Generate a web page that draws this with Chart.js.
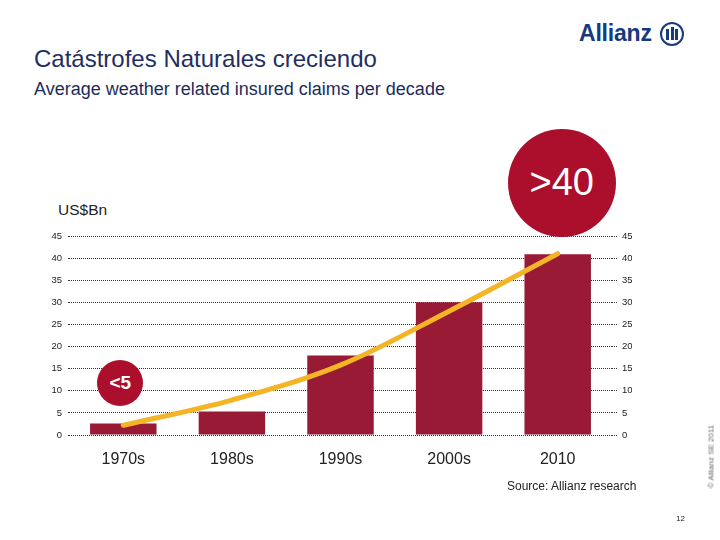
<!DOCTYPE html>
<html>
<head>
<meta charset="utf-8">
<script src="https://cdn.jsdelivr.net/npm/chart.js@4.4.1/dist/chart.umd.min.js"></script>
<style>
  html, body { margin:0; padding:0; background:#fff; }
  body { width:720px; height:540px; position:relative; overflow:hidden; font-family:"Liberation Sans", Arial, sans-serif; }
  #c { position:absolute; left:0; top:0; }
  .t { position:absolute; white-space:nowrap; }
  #title { left:34px; top:45px; font-size:24px; color:#1f2f62; }
  #sub { left:34px; top:79px; font-size:18px; color:#1c2b5c; }
  #unit { left:58px; top:201px; font-size:15.5px; color:#222; }
  #source { left:507px; top:479px; font-size:12px; color:#222; }
  #page { left:676px; top:514px; font-size:8px; color:#222; }
  #copy { left:671px; top:452px; font-size:8px; color:#666; transform:rotate(-90deg); transform-origin:center center; width:80px; text-align:center; }
  #logo { left:579px; top:20px; font-size:23px; font-weight:bold; color:#163a7e; letter-spacing:-0.2px; }
  #ring { position:absolute; left:660px; top:22px; width:20px; height:20px; border:2.5px solid #163a7e; border-radius:50%; }
  .bar { position:absolute; background:#163a7e; width:3px; }
  .circ { position:absolute; border-radius:50%; background:#ab0f2c; color:#fff; display:flex; align-items:center; justify-content:center; }
  #big { width:108px; height:108px; font-size:38px; }
  #small { width:46px; height:46px; font-size:19px; font-weight:bold; }
</style>
</head>
<body>
<div class="t" id="title">Catástrofes Naturales creciendo</div>
<div class="t" id="sub">Average weather related insured claims per decade</div>
<div class="t" id="logo">Allianz</div>
<div id="ring"><div class="bar" style="left:4px;top:5px;height:11px"></div><div class="bar" style="left:8.5px;top:3px;height:13px"></div><div class="bar" style="left:13px;top:5px;height:11px"></div></div>
<div class="t" id="unit">US$Bn</div>
<canvas id="c" width="720" height="540"></canvas>
<div class="circ" id="big">&gt;40</div>
<div class="circ" id="small">&lt;5</div>
<div class="t" id="source">Source: Allianz research</div>
<div class="t" id="page">12</div>
<div class="t" id="copy">© Allianz SE 2011</div>
<script>
const categories = ["1970s", "1980s", "1990s", "2000s", "2010"];
const claims = [2.6, 5.3, 18, 30, 40.9];
const trend = [2.2, 7.9, 15.8, 28, 41];
const yTicks = [0, 5, 10, 15, 20, 25, 30, 35, 40, 45];
const bubbles = [
  { el: "big", index: 4, value: 57, dx: 4 },
  { el: "small", index: 0, value: 11.7, dx: -3 }
];

const gridColor = "#333";
const bubblePlugin = {
  id: "bubbles",
  afterRender(chart) {
    const xs = chart.scales.x, ys = chart.scales.y;
    bubbles.forEach(b => {
      const el = document.getElementById(b.el);
      const cx = xs.getPixelForValue(b.index) + b.dx;
      const cy = ys.getPixelForValue(b.value);
      el.style.left = (cx - el.offsetWidth / 2) + "px";
      el.style.top = (cy - el.offsetHeight / 2) + "px";
    });
  }
};

new Chart(document.getElementById("c"), {
  data: {
    labels: categories,
    datasets: [
      { type: "line", data: trend, borderColor: "#f3b426", borderWidth: 5, pointRadius: 0, tension: 0.35, borderCapStyle: "round", order: 0, yAxisID: "y" },
      { type: "bar", data: claims, backgroundColor: "#981a35", categoryPercentage: 1, barPercentage: 0.612, order: 1, yAxisID: "y" }
    ]
  },
  options: {
    responsive: false,
    animation: false,
    devicePixelRatio: 1,
    layout: { padding: { left: 41, right: 88, top: 236, bottom: 65 } },
    plugins: { legend: { display: false }, tooltip: { enabled: false } },
    scales: {
      x: {
        grid: { display: false, drawTicks: false },
        border: { display: false },
        ticks: { color: "#222", font: { family: "Liberation Sans", size: 16 }, padding: 15 },
        afterFit(s) { s.height = 40; }
      },
      y: {
        position: "left", min: 0, max: 45,
        afterBuildTicks(s) { s.ticks = yTicks.map(v => ({ value: v })); },
        grid: { color: gridColor, lineWidth: 1, tickLength: 1, drawTicks: true, tickBorderDash: [1, 1] },
        border: { display: false, dash: [1, 1] },
        ticks: { color: "#222", font: { family: "Liberation Sans", size: 9.5 }, padding: 6 },
        afterFit(s) { s.width = 28; }
      },
      y2: {
        position: "right", min: 0, max: 45,
        afterBuildTicks(s) { s.ticks = yTicks.map(v => ({ value: v })); },
        grid: { drawOnChartArea: false, color: gridColor, lineWidth: 1, tickLength: 5, drawTicks: true, tickBorderDash: [1, 1] },
        border: { display: false },
        ticks: { color: "#222", font: { family: "Liberation Sans", size: 9.5 }, padding: 5 },
        afterFit(s) { s.width = 20; }
      }
    }
  },
  plugins: [bubblePlugin]
});
</script>
</body>
</html>
